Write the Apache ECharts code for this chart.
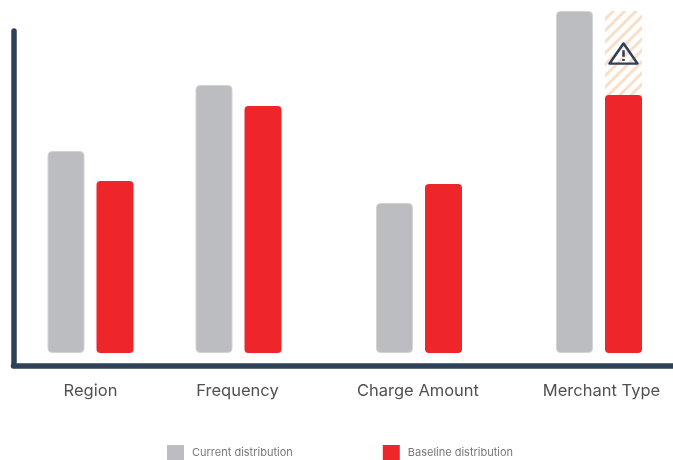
<!DOCTYPE html>
<html>
<head>
<meta charset="utf-8">
<style>html,body{margin:0;padding:0;background:#fff}#chart{width:673px;height:460px}</style>
<script src="https://cdn.jsdelivr.net/npm/echarts@6/dist/echarts.min.js"></script>
</head>
<body>
<div id="chart"></div>
<script>
// Drift per feature: current against baseline distribution.
const categories = ['Region', 'Frequency', 'Charge Amount', 'Merchant Type'];
const categorySlots = [77, 225, 405.5, 585.5];
const labelSlots = [77, 224, 404.5, 588];
const currentValues = [202, 268, 150, 342];
const baselineValues = [172, 247, 169, 258];
// The flagged feature shades the gap up to its current value.
const flaggedCeiling = [null, null, null, 342];

const navy = '#2f4059';
const barShift = 24.5;
const pairUp = (values, shift) => values.map((v, i) => [categorySlots[i] + shift, v]);
const textFont = 'Inter, "Open Sans", sans-serif';

const chart = echarts.init(document.getElementById('chart'), null, { renderer: 'canvas' });
chart.setOption({
  animation: false,
  backgroundColor: '#ffffff',
  grid: { left: 13.5, right: 0, top: 31, bottom: 94.5 },
  legend: {
    data: ['Current distribution', 'Baseline distribution'],
    left: 167, top: 445, padding: 0, itemWidth: 17, itemHeight: 15, itemGap: 90,
    icon: 'rect',
    itemStyle: { borderWidth: 0 },
    textStyle: { fontFamily: textFont, fontSize: 11, color: '#777777', padding: [0, 0, 0, 3] }
  },
  xAxis: {
    type: 'value', min: 0, max: 659.5, splitLine: { show: false },
    axisLine: { show: true, onZero: false, lineStyle: { color: navy, width: 5.5, cap: 'round' } },
    axisTick: { show: false },
    axisLabel: {
      customValues: labelSlots,
      formatter: (v) => categories[labelSlots.indexOf(v)],
      margin: 17, fontFamily: textFont, fontSize: 16.5, color: '#505050'
    }
  },
  yAxis: {
    type: 'value', min: -12.5, max: 322, splitLine: { show: false },
    axisLine: { show: true, onZero: false, lineStyle: { color: navy, width: 5.5, cap: 'round' } },
    axisTick: { show: false }, axisLabel: { show: false }
  },
  series: [
    {
      name: 'Current distribution', type: 'bar', clip: false,
      barWidth: 37, barGap: '-100%', data: pairUp(currentValues, -barShift),
      itemStyle: { color: '#bcbdc0', borderColor: '#d3d3d5', borderWidth: 1, borderRadius: 4 }
    },
    {
      name: 'Flagged gap', type: 'bar', clip: false,
      barWidth: 37, data: pairUp(flaggedCeiling, barShift),
      itemStyle: {
        color: '#ffffff',
        decal: {
          symbol: 'rect', color: '#f8dfc9', rotation: -Math.PI / 4,
          dashArrayX: [1, 0], dashArrayY: [2.5, 4.5], symbolSize: 1
        }
      },
      markPoint: {
        silent: true,
        symbol: 'path://M14 2 L27 24 L1 24 Z M14 9.5 L14 16.5 M14 19 L14 21',
        symbolSize: [28, 24], symbolKeepAspect: true,
        itemStyle: { color: 'transparent', borderColor: navy, borderWidth: 2.4, borderJoin: 'round' },
        label: { show: false },
        data: [{ coord: [categorySlots[3] + barShift, 299.5] }]
      }
    },
    {
      name: 'Baseline distribution', type: 'bar', clip: false,
      barWidth: 37, data: pairUp(baselineValues, barShift),
      itemStyle: { color: '#ee2529', borderRadius: 4 }
    }
  ]
});
</script>
</body>
</html>
